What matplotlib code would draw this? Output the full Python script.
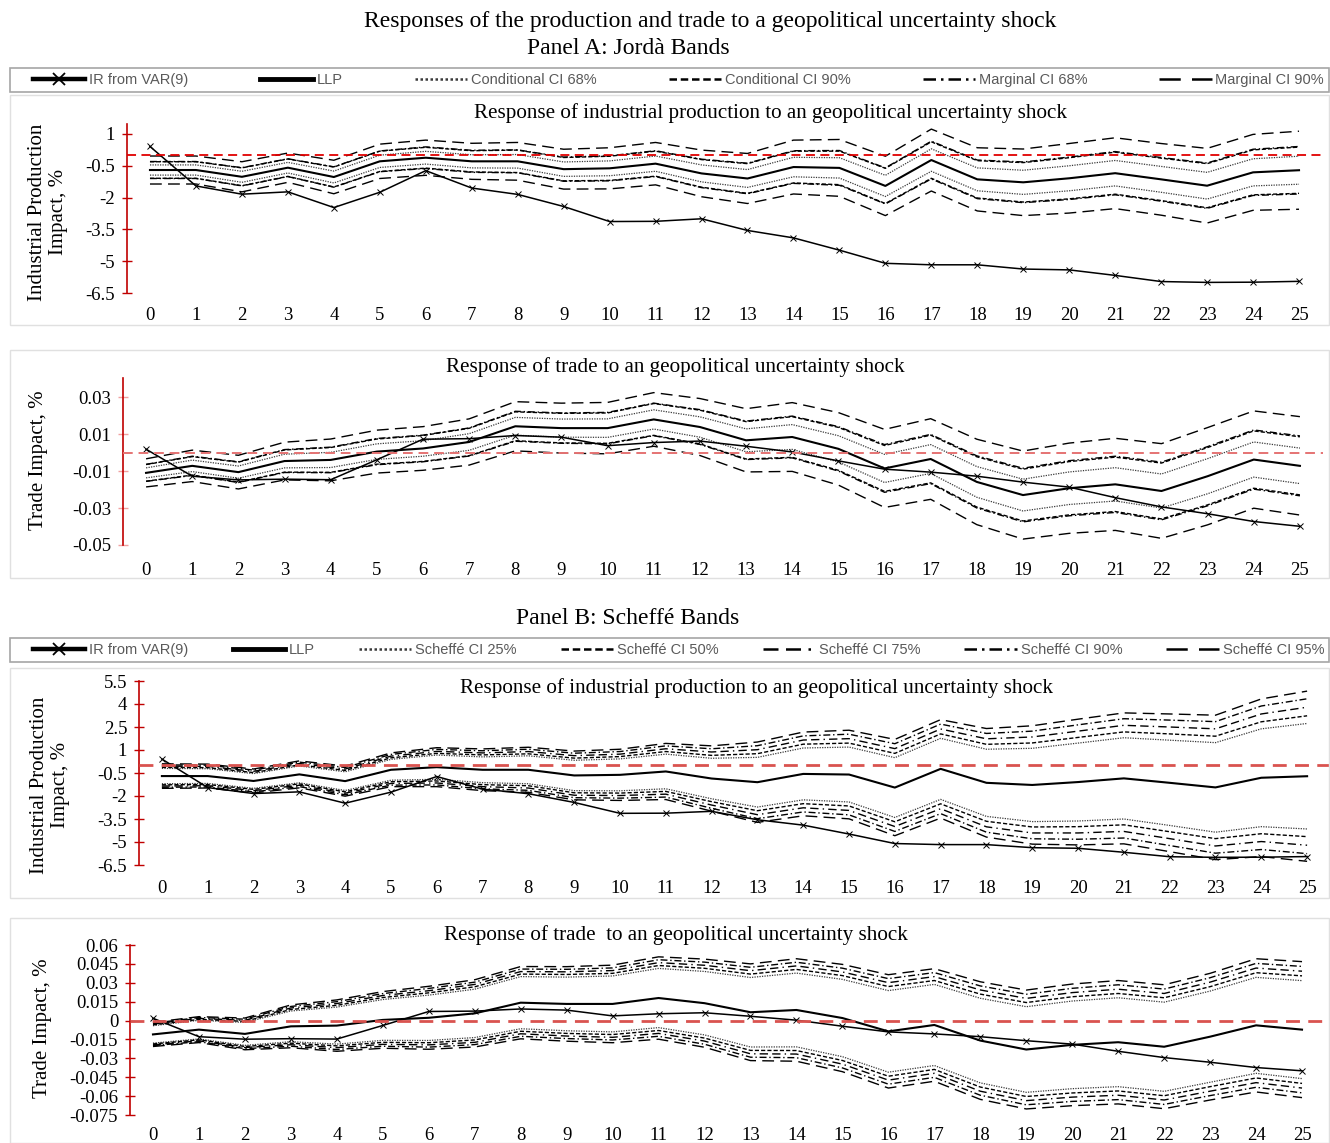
import matplotlib
matplotlib.use("Agg")
import matplotlib.pyplot as plt
from matplotlib.lines import Line2D
from matplotlib.patches import Rectangle
import numpy as np

W, H = 1330, 1143

plt.rcParams["font.family"] = ["Liberation Serif", "DejaVu Serif"]
plt.rcParams["axes.unicode_minus"] = False

horizons = np.arange(26)

# Industrial production, % (same LLP / VAR responses in both panels)
ip_var = np.array([0.41, -1.45, -1.84, -1.73, -2.47, -1.75, -0.73, -1.55, -1.85, -2.42,
                   -3.13, -3.12, -3.00, -3.55, -3.90, -4.48, -5.10, -5.17, -5.17, -5.37,
                   -5.41, -5.67, -5.96, -6.00, -5.99, -5.95])
ip_llp = np.array([-0.70, -0.70, -1.02, -0.59, -1.03, -0.29, -0.12, -0.29, -0.29, -0.66,
                   -0.62, -0.40, -0.86, -1.10, -0.56, -0.60, -1.45, -0.23, -1.14, -1.28,
                   -1.09, -0.85, -1.14, -1.44, -0.81, -0.71])

# Trade, %
tr_var = np.array([0.0018, -0.0128, -0.0148, -0.0144, -0.0147, -0.0039, 0.0072, 0.0075, 0.0092, 0.0083,
                   0.0037, 0.0054, 0.0062, 0.0034, 0.0003, -0.0045, -0.0090, -0.0106, -0.0128, -0.0160,
                   -0.0187, -0.0244, -0.0294, -0.0331, -0.0373, -0.0399])
tr_llp = np.array([-0.0110, -0.0072, -0.0106, -0.0046, -0.0040, 0.0005, 0.0022, 0.0057, 0.0142, 0.0132,
                   0.0132, 0.0179, 0.0138, 0.0066, 0.0084, 0.0020, -0.0086, -0.0035, -0.0159, -0.0230,
                   -0.0193, -0.0172, -0.0208, -0.0128, -0.0038, -0.0072])

# Jordà band half-widths around the LLP estimate
ip_cond68 = np.array([0.24, 0.24, 0.26, 0.25, 0.28, 0.29, 0.30, 0.31, 0.32, 0.34, 0.35, 0.36, 0.40,
                      0.42, 0.46, 0.48, 0.50, 0.53, 0.54, 0.57, 0.59, 0.60, 0.61, 0.63, 0.64, 0.66])
ip_cond90 = np.array([0.39, 0.39, 0.42, 0.41, 0.47, 0.48, 0.49, 0.50, 0.53, 0.55, 0.57, 0.59, 0.65,
                      0.70, 0.75, 0.79, 0.83, 0.86, 0.88, 0.93, 0.97, 0.99, 1.00, 1.04, 1.06, 1.09])
ip_marg68 = np.array([0.40, 0.40, 0.43, 0.42, 0.48, 0.49, 0.51, 0.52, 0.54, 0.57, 0.59, 0.61, 0.67,
                      0.72, 0.77, 0.82, 0.85, 0.89, 0.91, 0.96, 1.00, 1.02, 1.03, 1.07, 1.09, 1.12])
ip_marg90 = np.array([0.66, 0.66, 0.71, 0.69, 0.79, 0.81, 0.83, 0.85, 0.89, 0.94, 0.97, 1.00, 1.10,
                      1.18, 1.27, 1.34, 1.40, 1.46, 1.49, 1.57, 1.64, 1.67, 1.69, 1.76, 1.79, 1.84])

tr_cond68 = np.array([0.0027, 0.0031, 0.0033, 0.0037, 0.0041, 0.0042, 0.0042, 0.0045, 0.0048, 0.0049,
                      0.0050, 0.0052, 0.0055, 0.0062, 0.0067, 0.0071, 0.0076, 0.0078, 0.0083, 0.0086,
                      0.0088, 0.0090, 0.0092, 0.0095, 0.0095, 0.0096])
tr_cond90 = np.array([0.0045, 0.0050, 0.0054, 0.0060, 0.0067, 0.0068, 0.0070, 0.0074, 0.0078, 0.0080,
                      0.0082, 0.0086, 0.0091, 0.0101, 0.0110, 0.0116, 0.0124, 0.0129, 0.0136, 0.0140,
                      0.0144, 0.0147, 0.0151, 0.0155, 0.0155, 0.0157])
tr_marg68 = np.array([0.0046, 0.0052, 0.0056, 0.0062, 0.0069, 0.0071, 0.0072, 0.0076, 0.0081, 0.0082,
                      0.0085, 0.0088, 0.0094, 0.0104, 0.0113, 0.0120, 0.0129, 0.0133, 0.0141, 0.0145,
                      0.0149, 0.0152, 0.0156, 0.0160, 0.0160, 0.0162])
tr_marg90 = np.array([0.0076, 0.0085, 0.0091, 0.0102, 0.0113, 0.0116, 0.0118, 0.0125, 0.0133, 0.0135,
                      0.0139, 0.0145, 0.0154, 0.0171, 0.0186, 0.0196, 0.0211, 0.0218, 0.0231, 0.0238,
                      0.0244, 0.0249, 0.0256, 0.0263, 0.0263, 0.0266])

# Scheffé band half-widths around the LLP estimate
ip_s25 = np.array([0.50, 0.48, 0.48, 0.55, 0.61, 0.68, 0.79, 0.84, 0.91, 0.99, 1.04, 1.13, 1.32,
                   1.62, 1.69, 1.79, 1.95, 1.99, 2.19, 2.39, 2.54, 2.65, 2.78, 2.92, 3.19, 3.44])
ip_s50 = np.array([0.57, 0.55, 0.55, 0.62, 0.70, 0.78, 0.90, 0.97, 1.04, 1.13, 1.19, 1.30, 1.51,
                   1.86, 1.94, 2.05, 2.23, 2.28, 2.51, 2.74, 2.91, 3.03, 3.19, 3.34, 3.65, 3.94])
ip_s75 = np.array([0.65, 0.63, 0.63, 0.71, 0.79, 0.89, 1.03, 1.10, 1.19, 1.29, 1.35, 1.48, 1.73,
                   2.12, 2.21, 2.34, 2.54, 2.60, 2.87, 3.13, 3.32, 3.46, 3.64, 3.82, 4.16, 4.50])
ip_s90 = np.array([0.73, 0.71, 0.71, 0.80, 0.89, 1.00, 1.16, 1.24, 1.34, 1.45, 1.52, 1.67, 1.94,
                   2.38, 2.48, 2.63, 2.86, 2.92, 3.22, 3.51, 3.73, 3.89, 4.09, 4.29, 4.68, 5.05])
ip_s95 = np.array([0.80, 0.78, 0.78, 0.88, 0.98, 1.10, 1.27, 1.36, 1.47, 1.59, 1.67, 1.83, 2.13,
                   2.62, 2.73, 2.89, 3.14, 3.21, 3.54, 3.86, 4.10, 4.27, 4.49, 4.71, 5.14, 5.55])

tr_s25 = np.array([0.0069, 0.0074, 0.0091, 0.0122, 0.0147, 0.0162, 0.0180, 0.0192, 0.0207, 0.0213,
                   0.0222, 0.0235, 0.0252, 0.0276, 0.0293, 0.0307, 0.0324, 0.0322, 0.0336, 0.0340,
                   0.0348, 0.0353, 0.0354, 0.0362, 0.0381, 0.0389])
tr_s50 = np.array([0.0076, 0.0081, 0.0100, 0.0134, 0.0161, 0.0178, 0.0198, 0.0211, 0.0227, 0.0234,
                   0.0243, 0.0258, 0.0277, 0.0303, 0.0322, 0.0337, 0.0356, 0.0353, 0.0369, 0.0373,
                   0.0382, 0.0387, 0.0389, 0.0397, 0.0418, 0.0427])
tr_s75 = np.array([0.0083, 0.0089, 0.0108, 0.0146, 0.0175, 0.0194, 0.0215, 0.0230, 0.0247, 0.0255,
                   0.0265, 0.0281, 0.0301, 0.0330, 0.0350, 0.0366, 0.0387, 0.0384, 0.0402, 0.0406,
                   0.0415, 0.0421, 0.0423, 0.0433, 0.0455, 0.0464])
tr_s90 = np.array([0.0089, 0.0096, 0.0117, 0.0158, 0.0190, 0.0209, 0.0233, 0.0248, 0.0267, 0.0275,
                   0.0286, 0.0304, 0.0326, 0.0357, 0.0379, 0.0396, 0.0419, 0.0416, 0.0434, 0.0439,
                   0.0449, 0.0456, 0.0458, 0.0468, 0.0492, 0.0502])
tr_s95 = np.array([0.0096, 0.0103, 0.0126, 0.0170, 0.0204, 0.0225, 0.0250, 0.0267, 0.0287, 0.0296,
                   0.0308, 0.0327, 0.0350, 0.0384, 0.0407, 0.0426, 0.0450, 0.0447, 0.0467, 0.0472,
                   0.0483, 0.0490, 0.0492, 0.0503, 0.0529, 0.0540])

jorda_labels = ["IR from VAR(9)", "LLP", "Conditional CI 68%", "Conditional CI 90%",
                "Marginal CI 68%", "Marginal CI 90%"]
scheffe_labels = ["IR from VAR(9)", "LLP", "Scheffé CI 25%", "Scheffé CI 50%",
                  "Scheffé CI 75%", "Scheffé CI 90%", "Scheffé CI 95%"]

# line styles for the bands
DOT = dict(ls=(0, (1, 1)), color="#3a3a3a", lw=0.9)
SHORT_DASH = dict(ls=(0, (3, 1.5)), color="black", lw=1.0)
DASH_DOT = dict(ls=(0, (5, 2, 1, 2)), color="black", lw=1.0)
LONG_DASH_DOT = dict(ls=(0, (6, 3, 6, 3, 1, 3)), color="black", lw=1.0)
LONG_DASH = dict(ls=(0, (8.5, 4.5)), color="black", lw=1.0)

jorda_styles = [DOT, SHORT_DASH, DASH_DOT, LONG_DASH]
scheffe_styles = [DOT, SHORT_DASH, LONG_DASH_DOT, DASH_DOT, LONG_DASH]

LEGEND_FONT = dict(family=["Liberation Sans"], size=10.5, stretch="condensed")
AXIS_RED = "#c00000"


def fx(px):
    return px / W


def fy(py):
    return 1 - py / H


def axes_px(left, top, right, bottom):
    return [fx(left), fy(bottom), (right - left) / W, (bottom - top) / H]


def frame_px(fig, left, top, right, bottom, color, lw=1.0):
    fig.add_artist(Rectangle((fx(left), fy(bottom)), (right - left) / W, (bottom - top) / H,
                             transform=fig.transFigure, fill=False, edgecolor=color, lw=lw))


def draw_panel(fig, box, llp, var, bands, styles, ylim, yticks, yticklabels,
               zero_color, zero_lw, tick_color, xpad):
    ax = fig.add_axes(axes_px(*box))
    for hw, style in zip(bands, styles):
        ax.plot(horizons, llp + hw, **style)
        ax.plot(horizons, llp - hw, **style)
    ax.plot(horizons, llp, color="black", lw=1.5)
    ax.plot(horizons, var, color="black", lw=1.1, marker="x", ms=4, mew=0.7)
    ax.axhline(0, color=zero_color, lw=zero_lw, ls=(0, (5, 3)), zorder=6)

    ax.set_xlim(-0.5, 25.5)
    ax.set_ylim(*ylim)
    ax.set_xticks(horizons)
    ax.set_xticklabels([str(h) for h in horizons])
    ax.set_yticks(yticks)
    ax.set_yticklabels(yticklabels)
    for side in ("top", "right", "bottom"):
        ax.spines[side].set_visible(False)
    ax.spines["left"].set_color(AXIS_RED)
    ax.spines["left"].set_linewidth(1.2)
    ax.tick_params(axis="x", length=0, pad=xpad, labelsize=13.5)
    ax.tick_params(axis="y", direction="inout", length=7, width=1, color=tick_color,
                   pad=5, labelsize=13.5)
    ax.set_facecolor("none")
    return ax


def legend_row(fig, labels, styles, left, top, right, bottom):
    handles = [
        Line2D([], [], color="black", lw=3.2, marker="x", ms=8, mew=1.3),
        Line2D([], [], color="black", lw=3.5),
    ]
    for style in styles:
        handles.append(Line2D([], [], color=style["color"], ls=style["ls"], lw=1.8))
    frame_px(fig, left, top, right, bottom, "#a6a6a6", lw=1.2)
    fig.legend(handles, labels, loc="center",
               bbox_to_anchor=(fx(left + 20), fy(bottom), (right - left - 22) / W, (bottom - top) / H),
               mode="expand", ncol=len(labels), frameon=False, borderaxespad=0, borderpad=0.2,
               handlelength=3.6, handletextpad=0.25, columnspacing=1.0,
               prop=LEGEND_FONT, labelcolor="#595959")


fig = plt.figure(figsize=(W / 100, H / 100), dpi=100)

fig.text(fx(710), fy(22), "Responses of the production and trade to a geopolitical uncertainty shock",
         ha="center", va="center", fontsize=17)
fig.text(fx(628), fy(49), "Panel A: Jordà Bands", ha="center", va="center", fontsize=17)
fig.text(fx(628), fy(618), "Panel B: Scheffé Bands", ha="center", va="center", fontsize=17)

legend_row(fig, jorda_labels, jorda_styles, 10, 68, 1329, 92)
legend_row(fig, scheffe_labels, scheffe_styles, 10, 638, 1329, 662)

# panel outlines
for top, bottom in [(95, 325), (350, 578), (668, 898), (918, 1143)]:
    frame_px(fig, 10, top, 1329, bottom, "#e0e0e0", lw=1.0)

ip_ticks = [1, -0.5, -2, -3.5, -5, -6.5]
tr_ticks = [0.03, 0.01, -0.01, -0.03, -0.05]
ipb_ticks = [5.5, 4, 2.5, 1, -0.5, -2, -3.5, -5, -6.5]
trb_ticks = [0.06, 0.045, 0.03, 0.015, 0, -0.015, -0.03, -0.045, -0.06, -0.075]

draw_panel(fig, (127, 124, 1322, 293), ip_llp, ip_var,
           [ip_cond68, ip_cond90, ip_marg68, ip_marg90], jorda_styles,
           (-6.5, 1.47), ip_ticks, [f"{t:g}" for t in ip_ticks], "#e00000", 1.3, AXIS_RED, 10)
draw_panel(fig, (123, 378, 1323, 545), tr_llp, tr_var,
           [tr_cond68, tr_cond90, tr_marg68, tr_marg90], jorda_styles,
           (-0.05, 0.0403), tr_ticks, [f"{t:g}" for t in tr_ticks], "#e57373", 1.4, "#f0a0a0", 12)
draw_panel(fig, (139, 681, 1330, 865), ip_llp, ip_var,
           [ip_s25, ip_s50, ip_s75, ip_s90, ip_s95], scheffe_styles,
           (-6.5, 5.5), ipb_ticks, [f"{t:g}" for t in ipb_ticks], "#d9534f", 2.0, AXIS_RED, 11)
draw_panel(fig, (130, 945, 1325, 1115), tr_llp, tr_var,
           [tr_s25, tr_s50, tr_s75, tr_s90, tr_s95], scheffe_styles,
           (-0.075, 0.06), trb_ticks, [f"{t:g}" for t in trb_ticks], "#d9534f", 2.0, AXIS_RED, 9)

# panel titles
fig.text(fx(770), fy(113), "Response of industrial production to an geopolitical uncertainty shock",
         ha="center", va="center", fontsize=15.2)
fig.text(fx(675), fy(367), "Response of trade to an geopolitical uncertainty shock",
         ha="center", va="center", fontsize=15.2)
fig.text(fx(757), fy(688), "Response of industrial production to an geopolitical uncertainty shock",
         ha="center", va="center", fontsize=15.2)
fig.text(fx(676), fy(935), "Response of trade  to an geopolitical uncertainty shock",
         ha="center", va="center", fontsize=15.2)

# y-axis titles
fig.text(fx(48), fy(212), "Industrial Production\nImpact, %", rotation=90,
         ha="center", va="center", fontsize=15, linespacing=1.1)
fig.text(fx(38), fy(460), "Trade Impact, %", rotation=90, ha="center", va="center", fontsize=15)
fig.text(fx(50), fy(785), "Industrial Production\nImpact, %", rotation=90,
         ha="center", va="center", fontsize=15, linespacing=1.1)
fig.text(fx(42), fy(1028), "Trade Impact, %", rotation=90, ha="center", va="center", fontsize=15)

fig.savefig("out.png", dpi=100)
